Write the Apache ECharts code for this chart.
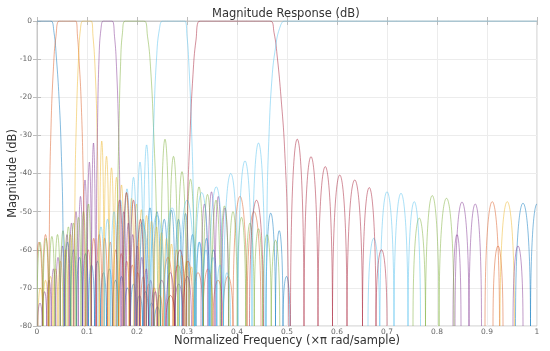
<!DOCTYPE html>
<html><head><meta charset="utf-8">
<script src="https://cdn.jsdelivr.net/npm/echarts@6/dist/echarts.min.js"></script>
<style>html,body{margin:0;padding:0;background:#fff}#c{width:550px;height:351px}</style>
</head><body><div id="c"></div>
<script>
// Axis ticks
const xTickValues = [0,0.1,0.2,0.3,0.4,0.5,0.6,0.7,0.8,0.9,1];
const yTickValues = [0,-10,-20,-30,-40,-50,-60,-70,-80];

// Main (pass-band) lobes: [frequency (x pi rad/sample), magnitude dB]
const blueMain = [[0,0],[0.02,0],[0.028,0],[0.034,-3],[0.039,-10],[0.044,-20],[0.048,-32],[0.052,-55],[0.055,-130]];
const orangeMain = [[0.022,-130],[0.025,-50],[0.028,-28],[0.033,-12],[0.038,-4],[0.045,0],[0.06,0],[0.077,0],[0.081,-4],[0.084,-10],[0.088,-20],[0.092,-38],[0.095,-65],[0.097,-130]];
const yellowMain = [[0.072,-130],[0.076,-45],[0.079,-25],[0.083,-10],[0.087,-2],[0.092,0],[0.1,0],[0.108,0],[0.112,-4],[0.116,-12],[0.12,-28],[0.123,-55],[0.125,-130]];
const purpleMain = [[0.117,-130],[0.119,-50],[0.121,-28],[0.124,-10],[0.128,-2],[0.133,0],[0.142,0],[0.15,0],[0.155,-4],[0.159,-12],[0.163,-28],[0.166,-50],[0.169,-130]];
const greenMain = [[0.158,-130],[0.161,-50],[0.164,-28],[0.167,-12],[0.171,-3],[0.177,0],[0.195,0],[0.214,0],[0.221,-4],[0.227,-12],[0.233,-28],[0.239,-52],[0.2475,-130]];
const cyanMain = [[0.226,-130],[0.23,-45],[0.234,-25],[0.239,-10],[0.245,-2],[0.252,0],[0.273,0],[0.295,0],[0.3,-4],[0.304,-12],[0.309,-28],[0.313,-50],[0.317,-130]];
const redMain = [[0.296,-130],[0.301,-50],[0.306,-30],[0.312,-14],[0.318,-5],[0.326,0],[0.4,0],[0.466,0],[0.474,-3],[0.481,-10],[0.488,-20],[0.495,-33],[0.501,-55],[0.507,-130]];
const highpassMain = [[0.456,-130],[0.46,-50],[0.464,-30],[0.47,-15],[0.477,-7],[0.485,-2],[0.495,0],[0.5,0],[0.99,0],[1,0]];

// Side lobes: [left null, right null, peak dB]
const blueLobes = [[0.055,0.067,-58],[0.067,0.079,-60],[0.079,0.091,-62],[0.091,0.103,-61],[0.103,0.115,-64],[0.115,0.127,-63],[0.127,0.139,-66],[0.139,0.151,-65],[0.151,0.163,-68],[0.163,0.175,-67],[0.175,0.187,-70],[0.187,0.199,-69],[0.199,0.211,-72],[0.211,0.223,-71],[0.223,0.235,-74],[0.235,0.247,-75],
  [0.205,0.219,-52],[0.219,0.233,-49],[0.233,0.247,-50],[0.247,0.262,-52],[0.262,0.276,-49.6],[0.276,0.29,-52],[0.29,0.304,-50.5],
  [0.304,0.318,-56],[0.318,0.332,-58],[0.332,0.346,-57],[0.346,0.36,-60],
  [0.458,0.477,-50.4],[0.477,0.492,-55],[0.492,0.506,-67],[0.957,0.987,-47.8],[0.987,1.013,-48]];
const orangeLobes = [[-0.003,0.011,-58],[0.011,0.023,-56],
  [0.097,0.108,-60],[0.108,0.119,-57],[0.119,0.13,-56],[0.13,0.141,-57],[0.141,0.152,-58],[0.152,0.163,-60],[0.163,0.174,-61],[0.174,0.185,-63],[0.185,0.196,-64],[0.196,0.207,-66],[0.207,0.218,-67],[0.218,0.229,-69],[0.229,0.24,-70],[0.24,0.251,-72],
  [0.252,0.272,-62],[0.272,0.292,-64],[0.292,0.312,-63],[0.312,0.332,-66],[0.332,0.352,-65],[0.352,0.372,-68],[0.372,0.392,-67],
  [0.392,0.42,-46],[0.42,0.448,-50],[0.896,0.925,-47.4],[0.912,0.932,-59]];
const yellowLobes = [[0.002,0.012,-70],[0.012,0.022,-68],[0.022,0.032,-67],[0.032,0.042,-65],[0.042,0.052,-63],[0.052,0.062,-60],[0.062,0.072,-56],
  [0.125,0.134,-31.5],[0.134,0.144,-35.5],[0.144,0.154,-38.5],[0.154,0.164,-41],[0.164,0.174,-43],[0.174,0.184,-45],[0.184,0.194,-46.5],[0.194,0.204,-48],[0.204,0.214,-49.5],[0.214,0.224,-51],[0.224,0.234,-52.5],[0.234,0.244,-54],[0.244,0.254,-55.5],[0.254,0.264,-57],[0.264,0.274,-58.5],[0.274,0.284,-60],
  [0.284,0.294,-61.5],[0.294,0.304,-63],[0.304,0.314,-64.5],
  [0.926,0.955,-47.4]];
const purpleLobes = [[0.0015,0.0105,-74],[0.0105,0.0195,-71],[0.0195,0.0285,-68],[0.0285,0.0375,-65],[0.0375,0.0465,-62],[0.0465,0.0555,-59],[0.0555,0.0645,-56],[0.0645,0.0735,-53],[0.0735,0.0825,-50],[0.0825,0.0915,-46],[0.0915,0.1005,-41.7],[0.1005,0.109,-37],[0.109,0.117,-32],
  [0.169,0.178,-50],[0.178,0.187,-53],[0.187,0.196,-56],[0.196,0.205,-59],[0.205,0.214,-62],[0.214,0.223,-65],[0.223,0.232,-68],[0.232,0.241,-71],
  [0.241,0.258,-68],[0.258,0.275,-66],[0.275,0.292,-69],[0.292,0.309,-67],
  [0.328,0.342,-48],[0.342,0.356,-44.8],[0.356,0.369,-46],[0.369,0.383,-49],
  [0.836,0.864,-47.5],[0.864,0.889,-48],[0.832,0.848,-56],[0.952,0.972,-59]];
const greenLobes = [[0,0.012,-58],[0.012,0.024,-57],[0.024,0.0355,-56.5],[0.0355,0.0465,-56],[0.0465,0.0575,-55],[0.0575,0.068,-54],[0.068,0.078,-53],[0.078,0.088,-51.5],[0.088,0.098,-50],[0.098,0.108,-48],
  [0.2475,0.2645,-31],[0.2645,0.2815,-35.5],[0.2815,0.2985,-39.5],[0.2985,0.3155,-41.5],[0.3155,0.3325,-43.5],[0.3325,0.3495,-45.5],[0.3495,0.3665,-47],[0.3665,0.3835,-48.5],[0.3835,0.4005,-50],[0.4005,0.4175,-51.5],[0.4175,0.4345,-53],[0.4345,0.4515,-54.5],[0.4515,0.4685,-56],[0.4685,0.4855,-57.5],
  [0.752,0.777,-51.7],[0.777,0.804,-45.8],[0.804,0.834,-46.5]];
const cyanLobes = [[0.1215,0.1345,-54],[0.1345,0.1475,-52],[0.1475,0.1605,-50],[0.1605,0.1735,-47],[0.1735,0.1865,-44],[0.1865,0.1995,-41],[0.1995,0.2125,-37],[0.2125,0.226,-32.5],
  [0.317,0.331,-58],[0.331,0.345,-60],[0.345,0.359,-62],[0.359,0.373,-64],[0.373,0.387,-66],
  [0.195,0.225,-53],[0.225,0.255,-51],[0.255,0.285,-49],[0.285,0.315,-47],[0.315,0.344,-45],[0.344,0.373,-43.5],[0.373,0.402,-40],[0.402,0.43,-36.7],[0.43,0.456,-32],
  [0.662,0.685,-57],[0.686,0.714,-44.8],[0.714,0.742,-45.2],[0.742,0.767,-47.4]];
const redLobes = [[0.158,0.172,-47],[0.172,0.186,-45],[0.186,0.2,-47],[0.2,0.214,-52],[0.258,0.276,-72],[0.276,0.296,-60],
  [0.425,0.453,-47],
  [0.507,0.534,-31],[0.534,0.562,-35.6],[0.562,0.591,-38.2],[0.591,0.62,-40.4],[0.62,0.651,-41.7],[0.651,0.678,-43.7],[0.678,0.70,-60]];

const BLUE='#0072BD', ORANGE='#D95319', YELLOW='#EDB120', PURPLE='#7E2F8E', GREEN='#77AC30', CYAN='#4DBEEE', RED='#A2142F';
const mainCurves = [[blueMain,BLUE],[orangeMain,ORANGE],[yellowMain,YELLOW],[purpleMain,PURPLE],[greenMain,GREEN],[cyanMain,CYAN],[redMain,RED],[highpassMain,CYAN]];
const lobeSets = [[blueLobes,BLUE],[orangeLobes,ORANGE],[yellowLobes,YELLOW],[purpleLobes,PURPLE],[greenLobes,GREEN],[cyanLobes,CYAN],[redLobes,RED]];

const FONT = 'DejaVu Sans';
const Y_MIN = yTickValues[yTickValues.length-1], Y_MAX = yTickValues[0];
const X_MIN = xTickValues[0], X_MAX = xTickValues[xTickValues.length-1];
const LINE_OPACITY = 0.48;

const chart = echarts.init(document.getElementById('c'), null, {renderer:'canvas'});
const axisCommon = {
  axisLine:{show:true,lineStyle:{color:'#c8c8c8',width:1}},
  axisTick:{show:true,inside:true,length:4,lineStyle:{color:'#bdbdbd'}}
};

function lobeRenderer(color){
  return function(params, api){
    const xL = api.value(0), xR = api.value(1), pk = api.value(2);
    const p0 = api.coord([xL, Y_MIN]);
    const p3 = api.coord([xR, Y_MIN]);
    const top = api.coord([xL, pk]);
    const yb = p0[1];
    const yc = yb + (top[1] - yb) * 4 / 3; // cubic arch whose apex reaches the peak
    return {type:'bezierCurve',
      shape:{x1:p0[0],y1:yb,x2:p3[0],y2:yb,cpx1:p0[0],cpy1:yc,cpx2:p3[0],cpy2:yc},
      style:{stroke:color,fill:null,lineWidth:1,opacity:LINE_OPACITY}};
  };
}

const series = [];
lobeSets.forEach(([d,c])=>series.push({type:'custom',data:d,xAxisIndex:0,yAxisIndex:0,clip:true,silent:true,
  encode:{x:[0,1],y:2},renderItem:lobeRenderer(c)}));
mainCurves.forEach(([d,c])=>series.push({type:'line',data:d,xAxisIndex:0,yAxisIndex:0,smooth:0.45,symbol:'none',clip:true,silent:true,
  lineStyle:{color:c,width:1,opacity:LINE_OPACITY}}));

chart.setOption({
  animation:false,
  backgroundColor:'#fff',
  title:{text:'Magnitude Response (dB)',left:207,top:3,textStyle:{fontFamily:FONT,fontSize:11.5,fontWeight:'normal',color:'#333'}},
  grid:{left:37,right:13,top:21,bottom:25,show:true,borderColor:'#c8c8c8',borderWidth:1,containLabel:false,outerBoundsMode:'none'},
  xAxis:[
    Object.assign({type:'value',min:X_MIN,max:X_MAX,interval:0.1,
      name:'Normalized Frequency (×π rad/sample)',nameLocation:'middle',nameGap:9,nameMoveOverlap:false,
      nameTextStyle:{fontFamily:FONT,fontSize:11.5,color:'#333',verticalAlign:'top'},
      axisLabel:{fontFamily:FONT,fontSize:7.5,color:'#666',margin:2,formatter:v=>String(+v.toFixed(1))},
      splitLine:{show:true,lineStyle:{color:'#ececec',width:1}}},axisCommon),
    Object.assign({type:'value',position:'top',min:X_MIN,max:X_MAX,interval:0.1,axisLabel:{show:false},splitLine:{show:false}},axisCommon)
  ],
  yAxis:[
    Object.assign({type:'value',min:Y_MIN,max:Y_MAX,interval:10,
      name:'Magnitude (dB)',nameLocation:'middle',nameGap:18,nameMoveOverlap:false,
      nameTextStyle:{fontFamily:FONT,fontSize:11.5,color:'#333'},
      axisLabel:{fontFamily:FONT,fontSize:7.5,color:'#666',margin:5},
      splitLine:{show:true,lineStyle:{color:'#ececec',width:1}}},axisCommon),
    Object.assign({type:'value',position:'right',min:Y_MIN,max:Y_MAX,interval:10,axisLabel:{show:false},splitLine:{show:false}},axisCommon)
  ],
  series: series
});
</script></body></html>
